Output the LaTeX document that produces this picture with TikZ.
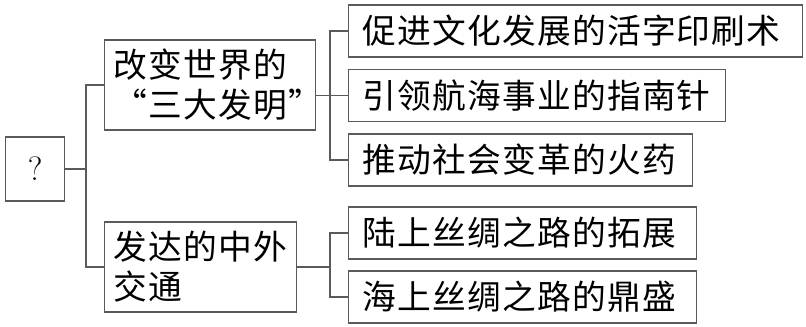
\documentclass[tikz,border=0pt]{standalone}
\usepackage{fontspec}
\newfontfamily\cjk[LetterSpace=3.5]{Noto Sans CJK SC}
\usepackage{tikz}
\usetikzlibrary{positioning, calc}
\definecolor{framegray}{RGB}{90, 90, 90}

\tikzset{
  box/.style={draw=framegray, line width=1pt, anchor=west, align=left,
              font=\cjk\fontsize{24}{28.5}\selectfont},
  leafbox/.style={box, inner xsep=0.35cm, minimum height=1.3cm},
  midbox/.style={box, inner xsep=0.225cm, minimum height=2.25cm},
  link/.style={draw=framegray, line width=1pt}
}

\begin{document}
\begin{tikzpicture}

\useasboundingbox (0,0) rectangle (20.15,8.175);
\fill[white] (0,0) rectangle (20.15,8.175);

% Root
\node[draw=framegray, line width=1pt, anchor=west, minimum width=1.475cm,
      minimum height=1.6cm, font=\fontsize{24}{28}\selectfont] (q) at (0.125,3.95) {?};

% Second level
\node[midbox, text width=4.825cm] (inv) at (2.6,6.05) {改变世界的\\“三大发明”};
\node[midbox, text width=4.35cm] (trf) at (2.6,1.5) {发达的中外\\交通};

% Leaves
\node[leafbox, text width=10.65cm] (print) at (8.7,7.4) {促进文化发展的活字印刷术};
\node[leafbox, text width=8.725cm] (comp) at (8.7,5.7875) {引领航海事业的指南针};
\node[leafbox, text width=7.9cm] (powd) at (8.7,4.175) {推动社会变革的火药};
\node[leafbox, text width=8.0cm] (land) at (8.7,2.35) {陆上丝绸之路的拓展};
\node[leafbox, text width=8.0cm] (sea) at (8.7,0.75) {海上丝绸之路的鼎盛};

% Trunks
\coordinate (t1) at (2.15,0);
\coordinate (t2) at (8.25,0);

% Connectors
\draw[link] (q.east) -- (q.east -| t1);
\draw[link] (inv.west) -| (t1 |- trf.west) -- (trf.west);
\draw[link] (print.west) -| (t2 |- powd.west) -- (powd.west);
\draw[link] (comp.west) -- (inv.east |- comp.west);
\draw[link] (land.west) -| (t2 |- sea.west) -- (sea.west);
\draw[link] (trf.east) -- (trf.east -| t2);

\end{tikzpicture}
\end{document}
